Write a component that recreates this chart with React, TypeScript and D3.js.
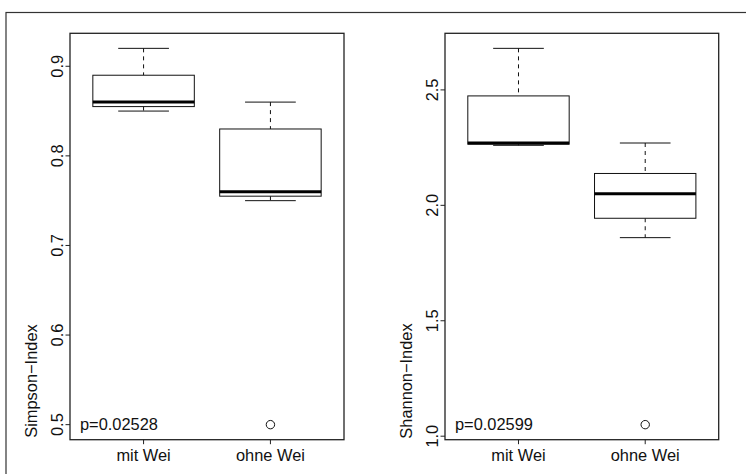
import React from "react";
import * as d3 from "d3";

const categories = ["mit Wei", "ohne Wei"];
// five-number summaries: [lowerWhisker, q1, median, q3, upperWhisker]
const simpsonStats = [
  [0.85, 0.855, 0.86, 0.89, 0.92],
  [0.75, 0.755, 0.76, 0.83, 0.86],
];
const simpsonOutliers = [[], [0.5]];
const shannonStats = [
  [2.26, 2.265, 2.27, 2.474, 2.68],
  [1.86, 1.944, 2.05, 2.138, 2.27],
];
const shannonOutliers = [[], [1.05]];
const simpsonTicks = [0.5, 0.6, 0.7, 0.8, 0.9];
const shannonTicks = [1.0, 1.5, 2.0, 2.5];
const pLabels = ["p=0.02528", "p=0.02599"];
const yLabels = ["Simpson\u2212Index", "Shannon\u2212Index"];

const FONT = "'Liberation Sans', Arial, Helvetica, sans-serif";
const FS = 16.4;

type PanelProps = {
  x0: number;
  x1: number;
  stats: number[][];
  outliers: number[][];
  ticks: number[];
  pLabel: string;
  yLabel: string;
  tickFmt: (v: number) => string;
};

function Panel({ x0, x1, stats, outliers, ticks, pLabel, yLabel, tickFmt }: PanelProps) {
  const top = 33.3;
  const bottom = 439.7;
  const all = stats.flat().concat(outliers.flat());
  const lo = d3.min(all)!;
  const hi = d3.max(all)!;
  const ext = (hi - lo) * 0.04;
  const y = d3.scaleLinear().domain([lo - ext, hi + ext]).range([bottom, top]);
  const x = d3.scaleLinear().domain([0.42, 2.58]).range([x0, x1]);
  const stroke = "#111";
  return (
    <g>
      {stats.map((s, i) => {
        const c = x(i + 1);
        const bl = x(i + 1 - 0.4);
        const br = x(i + 1 + 0.4);
        const cl = x(i + 1 - 0.2);
        const cr = x(i + 1 + 0.2);
        return (
          <g key={i}>
            <line x1={c} x2={c} y1={y(s[4])} y2={y(s[3])} stroke={stroke} strokeWidth={1} strokeDasharray="4,4" />
            <line x1={c} x2={c} y1={y(s[1])} y2={y(s[0])} stroke={stroke} strokeWidth={1} strokeDasharray="4,4" />
            <line x1={cl} x2={cr} y1={y(s[4])} y2={y(s[4])} stroke={stroke} strokeWidth={1} />
            <line x1={cl} x2={cr} y1={y(s[0])} y2={y(s[0])} stroke={stroke} strokeWidth={1} />
            <rect x={bl} y={y(s[3])} width={br - bl} height={y(s[1]) - y(s[3])} fill="white" stroke={stroke} strokeWidth={1} />
            <line x1={bl} x2={br} y1={y(s[2])} y2={y(s[2])} stroke="#000" strokeWidth={3} />
            {outliers[i].map((o, j) => (
              <circle key={j} cx={c} cy={y(o)} r={4.2} fill="none" stroke={stroke} strokeWidth={1} />
            ))}
          </g>
        );
      })}
      <rect x={x0} y={top} width={x1 - x0} height={bottom - top} fill="none" stroke="#222" strokeWidth={1.3} />
      {ticks.map((t) => (
        <g key={t}>
          <line x1={x0 - 4.5} x2={x0} y1={y(t)} y2={y(t)} stroke="#222" strokeWidth={1} />
          <text
            transform={`translate(${x0 - 7.5},${y(t)}) rotate(-90)`}
            textAnchor="middle"
            fontFamily={FONT}
            fontSize={FS}
            fill="#111"
          >
            {tickFmt(t)}
          </text>
        </g>
      ))}
      {categories.map((cat, i) => (
        <g key={cat}>
          <line x1={x(i + 1)} x2={x(i + 1)} y1={bottom} y2={bottom + 4.5} stroke="#222" strokeWidth={1} />
          <text x={x(i + 1)} y={461} textAnchor="middle" fontFamily={FONT} fontSize={FS} fill="#111">
            {cat}
          </text>
        </g>
      ))}
      <text x={x0 + 10} y={430} fontFamily={FONT} fontSize={FS} fill="#111">
        {pLabel}
      </text>
      <text
        transform={`translate(${x0 - 33},381) rotate(-90)`}
        textAnchor="middle"
        fontFamily={FONT}
        fontSize={FS}
        fill="#111"
      >
        {yLabel}
      </text>
    </g>
  );
}

export default function App() {
  return (
    <svg
      width={746}
      height={474}
      style={{ position: "absolute", left: 0, top: 0, background: "white" }}
    >
      <rect x={0} y={0} width={746} height={474} fill="white" />
      <rect x={6} y={12.5} width={800} height={500} fill="none" stroke="#333" strokeWidth={1.2} />
      <Panel
        x0={70}
        x1={344}
        stats={simpsonStats}
        outliers={simpsonOutliers}
        ticks={simpsonTicks}
        pLabel={pLabels[0]}
        yLabel={yLabels[0]}
        tickFmt={d3.format(".1f")}
      />
      <Panel
        x0={445}
        x1={718.7}
        stats={shannonStats}
        outliers={shannonOutliers}
        ticks={shannonTicks}
        pLabel={pLabels[1]}
        yLabel={yLabels[1]}
        tickFmt={d3.format(".1f")}
      />
    </svg>
  );
}
